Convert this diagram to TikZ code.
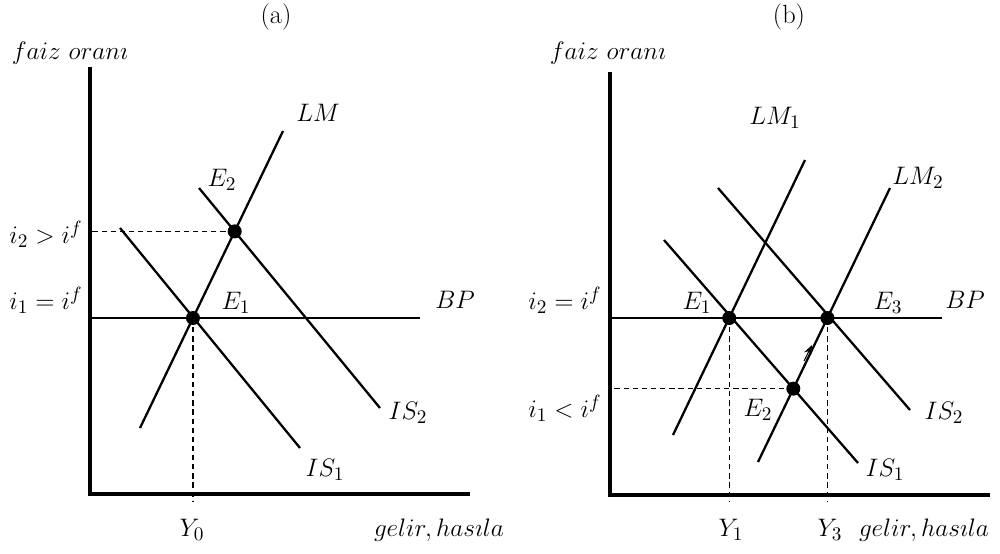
\documentclass[tikz,border=0pt]{standalone}
\usepackage{amsmath,amssymb}
\usepackage{tikz}
\usetikzlibrary{arrows.meta}

\begin{document}
\begin{tikzpicture}[
  >=Stealth, x=0.02cm, y=-0.02cm,
  axis/.style={line width=2.5pt},
  curve/.style={line width=1.3pt},
  guide/.style={line width=0.6pt,dash pattern=on 3pt off 2.2pt},
  eq/.style={circle,fill=black,minimum size=2.8mm,inner sep=0pt},
  lbl/.style={font=\fontsize{15}{17}\selectfont,inner sep=0pt}]
\useasboundingbox (0,0) rectangle (1000,554);

% panel (a)
\coordinate (ao) at (90,494);
\coordinate (atop) at (90,67);
\coordinate (aright) at (470,494);
\coordinate (abp1) at (90,318);
\coordinate (abp2) at (420,318);
\coordinate (alm1) at (140,428);
\coordinate (alm2) at (283,131);
\coordinate (ais1a) at (120,228);
\coordinate (ais1b) at (300,448);
\coordinate (ais2a) at (199,188);
\coordinate (ais2b) at (380,408);
\coordinate (aE1) at (intersection of alm1--alm2 and abp1--abp2);
\coordinate (aE2) at (intersection of alm1--alm2 and ais2a--ais2b);
\coordinate (aY0) at (aE1 |- 0,502);

\draw[guide] (aE2) -- (aE2 -| ao);
\draw[guide] (aE1) -- (aY0);
\draw[curve] (abp1) -- (abp2);
\draw[curve] (alm1) -- (alm2);
\draw[curve] (ais1a) -- (ais1b);
\draw[curve] (ais2a) -- (ais2b);
\draw[axis] (atop) -- (ao) -- (aright);
\node[eq] (dotaE1) at (aE1) {};
\node[eq] (dotaE2) at (aE2) {};

\node[lbl] (titlea) at (276,17) {(a)};
\node[lbl] (yaxa) at (70,53) {$faiz\ oran\imath$};
\node[lbl] (xaxa) at (439,530) {$gelir, has\imath la$};
\node[lbl] (lma) at (318,113) {$LM$};
\node[lbl] (e2a) at (222,180) {$E_2$};
\node[lbl] (e1a) at (236,303) {$E_1$};
\node[lbl] (bpa) at (455,300) {$BP$};
\node[lbl] (is2a) at (408,413) {$IS_2$};
\node[lbl] (is1a) at (325,470) {$IS_1$};
\node[lbl] (i2a) at (46,234) {$i_2>i^f$};
\node[lbl] (i1a) at (46,300) {$i_1=i^f$};
\node[lbl] (y0a) at (192,530) {$Y_0$};

% panel (b)
\coordinate (bo) at (610,495);
\coordinate (btop) at (610,72);
\coordinate (bright) at (990,495);
\coordinate (bbp1) at (612,318);
\coordinate (bbp2) at (942,318);
\coordinate (blm1a) at (673,435);
\coordinate (blm1b) at (805,160);
\coordinate (blm2a) at (758,462);
\coordinate (blm2b) at (890,188);
\coordinate (bis1a) at (664,240);
\coordinate (bis1b) at (858,463);
\coordinate (bis2a) at (718,188);
\coordinate (bis2b) at (910,410);
\coordinate (bE1) at (intersection of blm1a--blm1b and bbp1--bbp2);
\coordinate (bE2) at (intersection of blm2a--blm2b and bis1a--bis1b);
\coordinate (bE3) at (intersection of blm2a--blm2b and bbp1--bbp2);
\coordinate (bY1) at (bE1 |- 0,502);
\coordinate (bY3) at (bE3 |- 0,502);
\coordinate (mva) at (804,361);
\coordinate (mvb) at (812,345);

\draw[guide] (bE2) -- (bE2 -| bo);
\draw[guide] (bE1) -- (bY1);
\draw[guide] (bE3) -- (bY3);
\draw[curve] (bbp1) -- (bbp2);
\draw[curve] (blm1a) -- (blm1b);
\draw[curve] (blm2a) -- (blm2b);
\draw[curve] (bis1a) -- (bis1b);
\draw[curve] (bis2a) -- (bis2b);
\draw[axis] (btop) -- (bo) -- (bright);
\draw[->,line width=0.6pt] (mva) -- (mvb);
\node[eq] (dotbE1) at (bE1) {};
\node[eq] (dotbE2) at (bE2) {};
\node[eq] (dotbE3) at (bE3) {};

\node[lbl] (titleb) at (789,17) {(b)};
\node[lbl] (yaxb) at (608,53) {$faiz\ oran\imath$};
\node[lbl] (xaxb) at (924,530) {$gelir, has\imath la$};
\node[lbl] (lm1b) at (775,118) {$LM_1$};
\node[lbl] (lm2b) at (918,178) {$LM_2$};
\node[lbl] (e1b) at (697,303) {$E_1$};
\node[lbl] (e3b) at (888,303) {$E_3$};
\node[lbl] (e2b) at (758,410) {$E_2$};
\node[lbl] (bpb) at (965,300) {$BP$};
\node[lbl] (is2b) at (944,413) {$IS_2$};
\node[lbl] (is1b) at (885,470) {$IS_1$};
\node[lbl] (i2b) at (565,300) {$i_2=i^f$};
\node[lbl] (i1b) at (565,408) {$i_1<i^f$};
\node[lbl] (y1b) at (731,530) {$Y_1$};
\node[lbl] (y3b) at (830,530) {$Y_3$};
\end{tikzpicture}
\end{document}
